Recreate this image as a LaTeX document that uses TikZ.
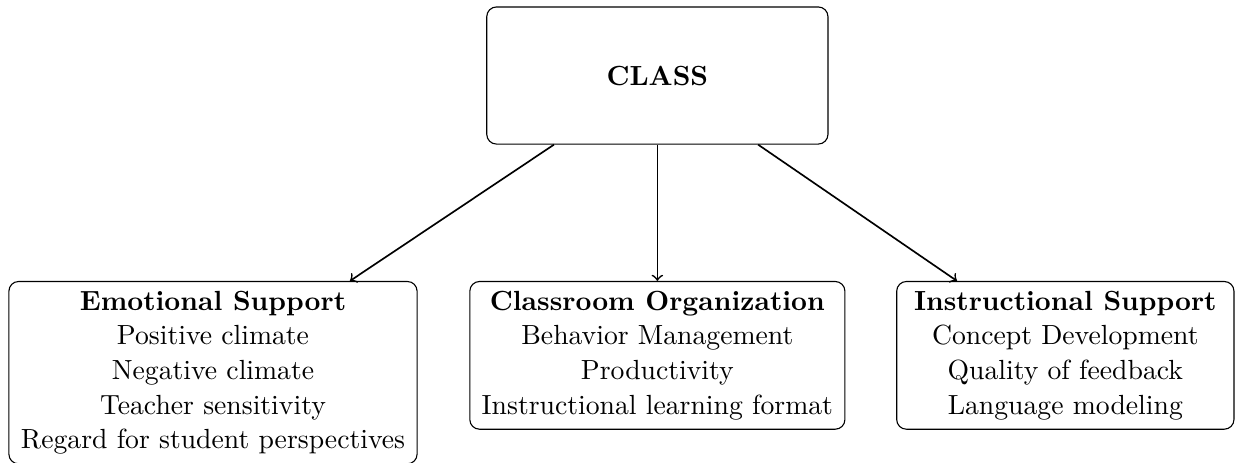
\documentclass[tikz,border=0pt]{standalone}
\usetikzlibrary{arrows}

\begin{document}
\begin{tikzpicture}[
	font=\fontsize{10}{12.5}\selectfont,
	box/.style={draw, rounded corners=3.5pt, align=center, inner xsep=4pt, inner ysep=3.4pt},
	link/.style={->, semithick}
	]
	
	\def\topy{-0.958}    
	\def\rowy{-3.565}    
	
	\useasboundingbox (0,0) rectangle (15.685,-5.863);
	
	\node[box, minimum width=4.33cm, minimum height=1.74cm] (class) at (8.342,\topy) {\textbf{CLASS}};
	
	\node[box, anchor=north, minimum width=5.18cm] (emotional) at (2.703,\rowy)
		{\textbf{Emotional Support}\\Positive climate\\Negative climate\\Teacher sensitivity\\Regard for student perspectives};
	\node[box, anchor=north, minimum width=4.76cm] (organization) at (8.342,\rowy)
		{\textbf{Classroom Organization}\\Behavior Management\\Productivity\\Instructional learning format};
	\node[box, anchor=north, minimum width=4.28cm] (instructional) at (13.519,\rowy)
		{\textbf{Instructional Support}\\Concept Development\\Quality of feedback\\Language modeling};
	
	\draw[link] (class) -- (emotional);
	\draw[link] (class) -- (organization);
	\draw[link] (class) -- (instructional);
\end{tikzpicture}
\end{document}
